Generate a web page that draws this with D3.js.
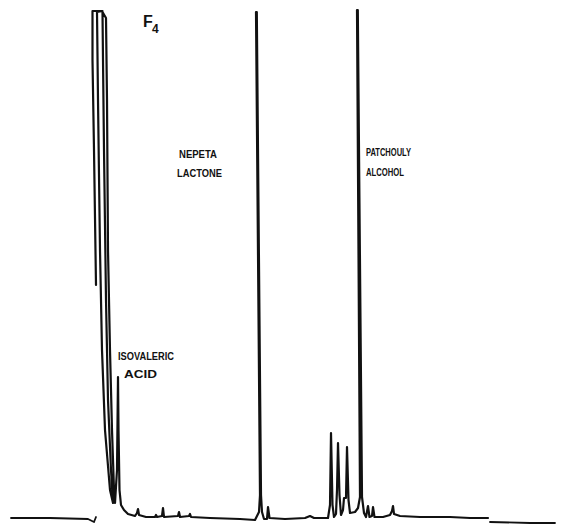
<!DOCTYPE html>
<html><head><meta charset="utf-8">
<script src="https://cdn.jsdelivr.net/npm/d3@7"></script>
<style>html,body{margin:0;padding:0;background:#fff;} svg{display:block}</style>
</head><body><svg id="chart" width="566" height="524"></svg>
<script>
// Retention time (min) and detector signal (% of full scale)
const preTime   = [0.1, 4.0, 7.8, 8.4, 8.6];
const preSignal = [0.4, 0.4, 0.2, -0.4, 0.6];

const traceTime = [8.6, 8.4, 8.25, 8.25, 9.25, 8.7, 8.8, 9.0, 9.2, 9.5, 10.0, 10.3,
  10.1, 9.8, 9.6, 9.4, 9.3, 9.25, 9.6, 9.7, 9.8, 10.0, 10.2, 10.4, 10.5,
  10.7, 10.8, 10.85, 10.95, 11.1, 11.4, 11.8, 12.5, 12.7, 12.8, 12.9, 13.6, 14.5, 14.6, 14.7,
  15.2, 15.3, 15.4, 16.8, 16.9, 17.0, 17.9, 18.0, 18.1, 20.0, 23.0, 24.5,
  24.9, 25.0, 24.6, 24.68, 25.1, 25.2, 25.4, 25.7, 25.8, 25.95, 27.5, 29.5, 30.0, 30.4, 31.8,
  32.0, 32.1, 32.25, 32.4, 32.6, 32.7, 32.8, 32.95, 33.1, 33.3, 33.4, 33.6, 33.7, 33.85, 34.0,
  34.5, 34.8, 35.0, 34.7, 34.78, 35.2, 35.4, 35.6, 35.8, 35.95, 36.2, 36.3, 36.45,
  37.3, 38.0, 38.2, 38.3, 38.4, 39.0, 41.0, 44.0, 46.0, 47.8];
const traceSignal = [47, 74, 92, 101.8, 101.8, 101.6, 84, 54, 34, 18, 6, 3.4,
  10, 24, 44, 74, 92, 101.6, 100.4, 84, 54, 34, 18, 6, 3.4,
  10, 28.6, 18, 6, 3, 2, 1.2, 0.8, 1.4, 2.2, 1, 0.6, 0.6, 1, 0.6,
  0.8, 2.4, 0.6, 0.8, 1.6, 0.6, 0.8, 1.2, 0.6, 0.4, 0.2, 0,
  1.6, 5, 101.6, 101.6, 5, 1.6, 0.2, 0.2, 2.6, 0.4, 0.2, 0.4, 0.8, 0.4, 0.4,
  3, 17.4, 3, 0.6, 1.2, 6, 15.4, 5, 1, 2, 4.4, 4.4, 14.6, 4, 1.4,
  1.6, 2.4, 4.6, 102, 102, 4.6, 1.4, 0.6, 2.8, 0.6, 0.8, 2.6, 0.6,
  0.6, 1, 1.8, 2.8, 1.2, 0.8, 0.6, 0.6, 0.4, 0.4];

const postTime   = [48.0, 52.0, 54.5];
const postSignal = [-0.4, -0.6, -0.6];

const peakNames = [["ISOVALERIC", "ACID"], ["NEPETA", "LACTONE"], ["PATCHOULY", "ALCOHOL"]];
const fractionName = "F";
const fractionIndex = "4";

const svg = d3.select("#chart");
const x = d3.scaleLinear().domain([0, 55.6]).range([10, 566]);
const y = d3.scaleLinear().domain([0, 102]).range([520, 10]);
const line = d3.line().x(d => x(d[0])).y(d => y(d[1]));
const ink = "#111";

function draw(ts, ss, w) {
  svg.append("path")
    .datum(ts.map((t, i) => [t, ss[i]]))
    .attr("d", line)
    .attr("fill", "none")
    .attr("stroke", ink)
    .attr("stroke-width", w)
    .attr("stroke-linejoin", "round")
    .attr("stroke-linecap", "round");
}
draw(preTime, preSignal, 1.8);
draw(traceTime, traceSignal, 2.2);
draw(postTime, postSignal, 1.8);

// annotation layout (anchor time, signal, width in px)
const labelLayout = [
  [[10.8, 32, 56], [11.4, 28.4, 33]],
  [[16.9, 72.4, 38], [16.7, 68.6, 45]],
  [[35.6, 72.8, 45], [35.6, 68.8, 38]]
];
peakNames.forEach((lines, i) => {
  lines.forEach((txt, j) => {
    const [t, s, w] = labelLayout[i][j];
    svg.append("text")
      .attr("x", x(t)).attr("y", y(s))
      .attr("textLength", w).attr("lengthAdjust", "spacingAndGlyphs")
      .attr("font-family", "Liberation Sans, Arial, sans-serif")
      .attr("font-weight", "bold").attr("font-size", 10.5)
      .attr("fill", ink).text(txt);
  });
});

svg.append("text").attr("x", x(13.3)).attr("y", y(98.6))
  .attr("font-family", "Liberation Sans, Arial, sans-serif")
  .attr("font-weight", "bold").attr("font-size", 16).attr("fill", ink)
  .text(fractionName);
svg.append("text").attr("x", x(14.2)).attr("y", y(97.4))
  .attr("font-family", "Liberation Sans, Arial, sans-serif")
  .attr("font-weight", "bold").attr("font-size", 12).attr("fill", ink)
  .text(fractionIndex);
</script></body></html>
